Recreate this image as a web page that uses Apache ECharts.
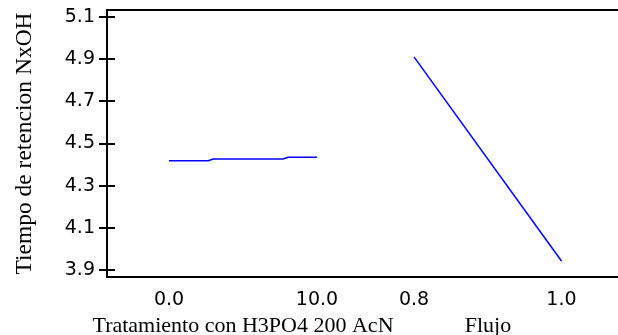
<!DOCTYPE html>
<html><head><meta charset="utf-8">
<script src="https://cdn.jsdelivr.net/npm/echarts@6/dist/echarts.min.js"></script>
<style>html,body{margin:0;padding:0;background:#fff}#c{width:618px;height:335px}</style>
</head><body><div id="c"></div>
<script>
const yTicks = [3.9, 4.1, 4.3, 4.5, 4.7, 4.9, 5.1];
const tratTicks = [0, 10];
const flujoTicks = [0.8, 1.0];
const tratX = [0, 2.65, 3.0, 7.7, 8.05, 10];
const tratY = [4.418, 4.418, 4.426, 4.426, 4.434, 4.434];
const flujoX = [0.8, 1.0];
const flujoY = [4.91, 3.943];
const yName = 'Tiempo de retencion NxOH';
const tratName = 'Tratamiento con H3PO4 200 AcN';
const flujoName = 'Flujo';

const YMIN = 3.867, YMAX = 5.132;
const serif = 'Liberation Serif';
const sans = 'DejaVu Sans';
const chart = echarts.init(document.getElementById('c'), null, {renderer: 'canvas'});
const hiddenY = i => ({gridIndex: i, type: 'value', min: YMIN, max: YMAX, show: false});
chart.setOption({
  animation: false,
  grid: [
    {left: 107, top: 10, width: 516, height: 267, outerBoundsMode: 'none', containLabel: false},
    {left: 107, top: 10, width: 272, height: 267, outerBoundsMode: 'none', containLabel: false},
    {left: 357, top: 10, width: 262, height: 267, outerBoundsMode: 'none', containLabel: false}
  ],
  xAxis: [
    {gridIndex: 0, type: 'value', min: 0, max: 1, position: 'bottom',
     axisLine: {show: true, lineStyle: {color: '#000', width: 2}}, axisTick: {show: false}, axisLabel: {show: false}, splitLine: {show: false}},
    {gridIndex: 0, type: 'value', min: 0, max: 1, position: 'top',
     axisLine: {show: true, lineStyle: {color: '#000', width: 2}}, axisTick: {show: false}, axisLabel: {show: false}, splitLine: {show: false}},
    {gridIndex: 1, type: 'value', min: -4.189, max: 14.189,
     axisLine: {show: false}, axisTick: {show: false}, splitLine: {show: false},
     axisLabel: {customValues: tratTicks, formatter: v => v.toFixed(1), color: '#000', fontFamily: sans, fontSize: 19, margin: 14},
     name: tratName, nameLocation: 'middle', nameGap: 34,
     nameTextStyle: {color: '#000', fontFamily: serif, fontSize: 22}},
    {gridIndex: 2, type: 'value', min: 0.7227, max: 1.078,
     axisLine: {show: false}, axisTick: {show: false}, splitLine: {show: false},
     axisLabel: {customValues: flujoTicks, formatter: v => v.toFixed(1), color: '#000', fontFamily: sans, fontSize: 19, margin: 14},
     name: flujoName, nameLocation: 'middle', nameGap: 34,
     nameTextStyle: {color: '#000', fontFamily: serif, fontSize: 22}}
  ],
  yAxis: [
    {gridIndex: 0, type: 'value', min: YMIN, max: YMAX, position: 'left',
     axisLine: {show: true, lineStyle: {color: '#000', width: 2}},
     axisTick: {show: true, inside: true, length: 8, customValues: yTicks, lineStyle: {color: '#000', width: 2}},
     axisLabel: {customValues: yTicks, formatter: v => v.toFixed(1), color: '#000', fontFamily: sans, fontSize: 19, margin: 12},
     splitLine: {show: false},
     name: yName, nameLocation: 'middle', nameRotate: 90, nameGap: 70,
     nameTextStyle: {color: '#000', fontFamily: serif, fontSize: 23.5}},
    {gridIndex: 0, type: 'value', min: YMIN, max: YMAX, position: 'right',
     axisLine: {show: false},
     axisTick: {show: true, inside: true, length: 8, customValues: yTicks, lineStyle: {color: '#000', width: 2}},
     axisLabel: {show: false}, splitLine: {show: false}},
    hiddenY(1), hiddenY(2)
  ],
  series: [
    {type: 'line', xAxisIndex: 2, yAxisIndex: 2, symbol: 'none', lineStyle: {color: '#0000ff', width: 1.5},
     data: tratX.map((x, i) => [x, tratY[i]])},
    {type: 'line', xAxisIndex: 3, yAxisIndex: 3, symbol: 'none', lineStyle: {color: '#0000ff', width: 1.5},
     data: flujoX.map((x, i) => [x, flujoY[i]])}
  ]
});
</script></body></html>
